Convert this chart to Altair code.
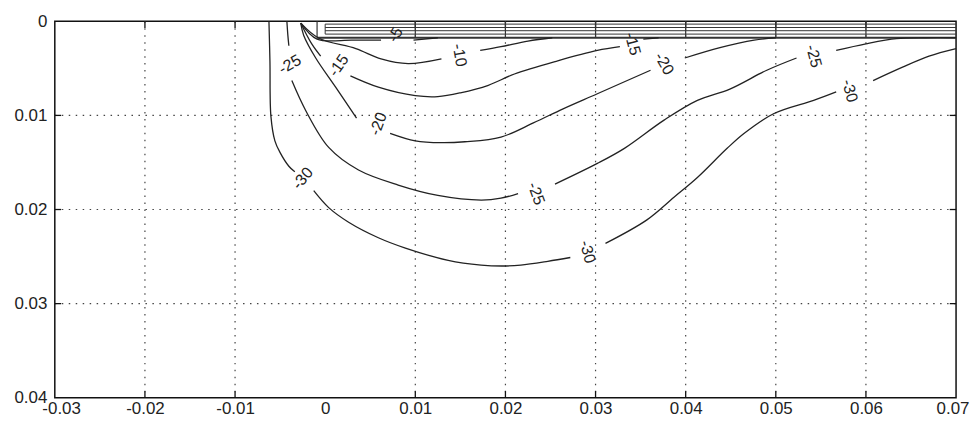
import altair as alt
import pandas as pd

FONT = "Liberation Sans"

# ---------------- axes / grid ----------------
X_TICKS = [-0.03, -0.02, -0.01, 0.0, 0.01, 0.02, 0.03, 0.04, 0.05, 0.06, 0.07]
Y_TICKS = [0.0, 0.01, 0.02, 0.03, 0.04]
X_GRID = [-0.02, -0.01, 0.01, 0.02, 0.03, 0.04, 0.05, 0.06]   # no line at x=0 in the original
Y_GRID = [0.01, 0.02, 0.03]
X_MIN, X_MAX = -0.03, 0.07
Y_MIN, Y_MAX = 0.0, 0.04
TICK_LEN_X = 0.0007
TICK_LEN_Y = 0.0007

# ---------------- plate at the surface ----------------
PLATE_X0 = -0.0009
PLATE_INNER_X0 = 0.0
PLATE_X1 = 0.07
PLATE_LINES_Y = [0.0003, 0.00066, 0.001, 0.00136]
PLATE_BOTTOM = 0.00175

# ---------------- contour lines (segments between labels) ----------------
M30_S1_X = [-0.00624, -0.00613, -0.00602, -0.00558, -0.00503, -0.00403, -0.00337]
M30_S1_Y = [0.0, 0.0042, 0.0101, 0.0127, 0.0139, 0.0154, 0.0160]
M30_S2_X = [-0.00127, 0.00039, 0.0026, 0.0059, 0.0089, 0.01365, 0.0173, 0.0197, 0.0217, 0.0247, 0.0272]
M30_S2_Y = [0.0180, 0.0198, 0.02135, 0.0230, 0.0241, 0.0254, 0.0259, 0.0260, 0.0259, 0.0255, 0.0251]
M30_S3_X = [0.0311, 0.0357, 0.0387, 0.0413, 0.0446, 0.0465, 0.0498, 0.0542, 0.0567]
M30_S3_Y = [0.0236, 0.0211, 0.0187, 0.0166, 0.0135, 0.0119, 0.0098, 0.0084, 0.0075]
M30_S4_X = [0.0608, 0.0640, 0.0670, 0.0700]
M30_S4_Y = [0.0063, 0.0049, 0.0037, 0.0029]

M25_S1_X = [-0.00425, -0.00414, -0.00403]
M25_S1_Y = [0.0, 0.0015, 0.0026]
M25_S2_X = [-0.0037, -0.00215, 0.00039, 0.0037, 0.0081, 0.0125, 0.0173, 0.0195, 0.0214]
M25_S2_Y = [0.0063, 0.0095, 0.0134, 0.0158, 0.0174, 0.0185, 0.0190, 0.0188, 0.0183]
M25_S3_X = [0.0255, 0.0302, 0.0332, 0.0376, 0.0413, 0.0449, 0.0490, 0.0523]
M25_S3_Y = [0.0173, 0.0151, 0.0135, 0.0105, 0.0084, 0.0072, 0.0052, 0.0039]
M25_S4_X = [0.0567, 0.0600, 0.0634, 0.0665, 0.0700]
M25_S4_Y = [0.0031, 0.0024, 0.00185, 0.00175, 0.00175]

M20_S1_X = [-0.00271, -0.00238, -0.00105, 0.00116, 0.00348]
M20_S1_Y = [0.0002, 0.0015, 0.0039, 0.0070, 0.0103]
M20_S2_X = [0.0072, 0.0100, 0.0129, 0.0155, 0.0195, 0.0231, 0.0264, 0.0302, 0.0361]
M20_S2_Y = [0.0119, 0.0127, 0.0129, 0.0128, 0.0123, 0.0108, 0.0093, 0.0077, 0.0052]
M20_S3_X = [0.0399, 0.0438, 0.0476, 0.0500]
M20_S3_Y = [0.0039, 0.0028, 0.0020, 0.00175]

M15_S1_X = [-0.00271, -0.00149, -0.0005]
M15_S1_Y = [0.0002, 0.0024, 0.0037]
M15_S2_X = [0.0028, 0.0059, 0.0100, 0.0125, 0.0150, 0.0181, 0.0210, 0.0258, 0.0302, 0.0327]
M15_S2_Y = [0.0058, 0.0070, 0.0079, 0.0080, 0.0076, 0.0068, 0.0056, 0.0042, 0.0031, 0.0027]
M15_S3_X = [0.0353, 0.0370]
M15_S3_Y = [0.0019, 0.00175]

M10_S1_X = [-0.0027, -0.0007, 0.0034, 0.0062, 0.0092, 0.0129]
M10_S1_Y = [0.0002, 0.0018, 0.0029, 0.0040, 0.0045, 0.0040]
M10_S2_X = [0.0172, 0.0195, 0.0225, 0.0252]
M10_S2_Y = [0.0031, 0.0027, 0.0021, 0.00175]

M05_S1_X = [-0.0027, -0.0009, 0.0030, 0.0062]
M05_S1_Y = [0.0002, 0.0019, 0.0020, 0.0020]
M05_S2_X = [0.0098, 0.0125]
M05_S2_Y = [0.0020, 0.00175]

# ---------------- contour labels ----------------
LABEL_TEXT = ["-30", "-30", "-30", "-25", "-25", "-25", "-20", "-20", "-15", "-15", "-10", "-5"]
LABEL_X = [-0.00249, 0.0291, 0.0582, -0.00392, 0.0234, 0.0542, 0.0059, 0.0376, 0.0015, 0.0341, 0.0149, 0.0078]
LABEL_Y = [0.0167, 0.0245, 0.0074, 0.0046, 0.0183, 0.0037, 0.0109, 0.0045, 0.0047, 0.0024, 0.0036, 0.00143]
LABEL_ANGLE = [310, 75, 75, 330, 70, 75, 290, 60, 305, 75, 80, 300]

# ---------------- tables ----------------
segments = [
    ("-30", M30_S1_X, M30_S1_Y), ("-30", M30_S2_X, M30_S2_Y), ("-30", M30_S3_X, M30_S3_Y), ("-30", M30_S4_X, M30_S4_Y),
    ("-25", M25_S1_X, M25_S1_Y), ("-25", M25_S2_X, M25_S2_Y), ("-25", M25_S3_X, M25_S3_Y), ("-25", M25_S4_X, M25_S4_Y),
    ("-20", M20_S1_X, M20_S1_Y), ("-20", M20_S2_X, M20_S2_Y), ("-20", M20_S3_X, M20_S3_Y),
    ("-15", M15_S1_X, M15_S1_Y), ("-15", M15_S2_X, M15_S2_Y), ("-15", M15_S3_X, M15_S3_Y),
    ("-10", M10_S1_X, M10_S1_Y), ("-10", M10_S2_X, M10_S2_Y),
    ("-5", M05_S1_X, M05_S1_Y), ("-5", M05_S2_X, M05_S2_Y),
]
line_rows = []
for k, (lev, xs_, ys_) in enumerate(segments):
    for i, (xv, yv) in enumerate(zip(xs_, ys_)):
        line_rows.append({"level": lev, "seg": k, "i": i, "x": xv, "y": yv})
line_df = pd.DataFrame(line_rows)

label_df = pd.DataFrame({"text": LABEL_TEXT, "x": LABEL_X, "y": LABEL_Y, "angle": LABEL_ANGLE})

grid_rows = [{"x": g, "x2": g, "y": Y_MIN, "y2": Y_MAX} for g in X_GRID]
grid_rows += [{"x": X_MIN, "x2": X_MAX, "y": g, "y2": g} for g in Y_GRID]
grid_df = pd.DataFrame(grid_rows)

tick_rows = []
for g in X_GRID:
    tick_rows.append({"x": g, "x2": g, "y": Y_MAX, "y2": Y_MAX - TICK_LEN_Y})
    tick_rows.append({"x": g, "x2": g, "y": Y_MIN, "y2": Y_MIN + TICK_LEN_Y})
for g in Y_GRID:
    tick_rows.append({"x": X_MIN, "x2": X_MIN + TICK_LEN_X, "y": g, "y2": g})
    tick_rows.append({"x": X_MAX, "x2": X_MAX - TICK_LEN_X, "y": g, "y2": g})
tick_df = pd.DataFrame(tick_rows)

plate_rows = [{"x": PLATE_INNER_X0, "x2": PLATE_X1, "y": v, "y2": v, "w": 1.0} for v in PLATE_LINES_Y]
plate_rows.append({"x": PLATE_X0, "x2": PLATE_X1, "y": PLATE_BOTTOM, "y2": PLATE_BOTTOM, "w": 2.2})
plate_rows.append({"x": PLATE_X0, "x2": PLATE_X0, "y": Y_MIN, "y2": PLATE_BOTTOM, "w": 1.2})
plate_rows.append({"x": PLATE_INNER_X0, "x2": PLATE_INNER_X0, "y": PLATE_LINES_Y[0], "y2": PLATE_LINES_Y[-1], "w": 1.0})
for g in X_GRID:
    if g > PLATE_INNER_X0:
        plate_rows.append({"x": g, "x2": g, "y": Y_MIN, "y2": PLATE_BOTTOM, "w": 1.2})
plate_df = pd.DataFrame(plate_rows)

# ---------------- chart ----------------
lab = "datum.value == 0 ? '0' : (datum.value < 0 ? '-' : '') + format(abs(datum.value), '.2f')"
xscale = alt.Scale(domain=[X_MIN, X_MAX], nice=False, zero=False)
yscale = alt.Scale(domain=[Y_MIN, Y_MAX], reverse=True, nice=False, zero=False)
x_axis = alt.Axis(values=X_TICKS, labelExpr=lab, grid=False, ticks=False, domain=False, title=None,
                  labelFont=FONT, labelFontSize=17, labelPadding=3, labelColor="#222",
                  labelFlush=True, labelFlushOffset=13, labelBaseline="top")
y_axis = alt.Axis(values=Y_TICKS, labelExpr=lab, grid=False, ticks=False, domain=False, title=None,
                  labelFont=FONT, labelFontSize=17, labelPadding=8, labelColor="#222",
                  labelFlush=False)
X = alt.X("x:Q", scale=xscale, axis=x_axis)
Y = alt.Y("y:Q", scale=yscale, axis=y_axis)

grid = alt.Chart(grid_df).mark_rule(color="#444", strokeWidth=1.2, strokeDash=[1.5, 5.5]).encode(
    x=X, y=Y, x2="x2:Q", y2="y2:Q")
ticks = alt.Chart(tick_df).mark_rule(color="#111", strokeWidth=1.3).encode(
    x=X, y=Y, x2="x2:Q", y2="y2:Q")
plate = alt.Chart(plate_df).mark_rule(color="#333").encode(
    x=X, y=Y, x2="x2:Q", y2="y2:Q", strokeWidth=alt.StrokeWidth("w:Q", scale=None))
contours = alt.Chart(line_df).mark_line(color="#222", strokeWidth=1.3, interpolate="catmull-rom").encode(
    x=X, y=Y, detail="seg:N", order="i:Q")
texts = alt.Chart(label_df).mark_text(font=FONT, fontSize=16, color="#222").encode(
    x=X, y=Y, text="text:N", angle=alt.Angle("angle:Q", scale=None))

chart = alt.layer(grid, ticks, plate, contours, texts).properties(
    width=905, height=378,
    autosize=alt.AutoSizeParams(type="none"),
    padding={"left": 47, "top": 12.5, "right": 14, "bottom": 20},
    background="white",
).configure_view(stroke="#111", strokeWidth=1.5)

chart.save("out.html", embed_options={"renderer": "svg", "actions": False})
